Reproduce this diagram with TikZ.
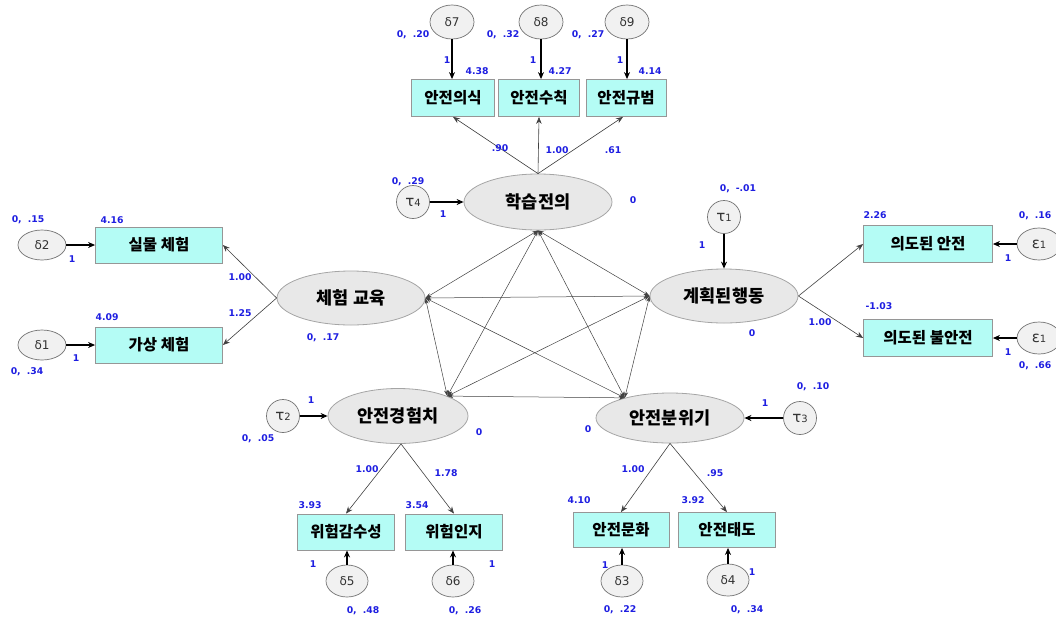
\documentclass[tikz,border=0pt]{standalone}
\usepackage{fontspec}
\newfontfamily\kr{Noto Sans CJK KR}
\newfontfamily\dv{DejaVu Sans}
\usetikzlibrary{arrows.meta,shapes.geometric}
\definecolor{boxfill}{RGB}{180,252,245}
\definecolor{boxline}{RGB}{150,150,150}
\definecolor{ellfill}{RGB}{232,232,232}
\definecolor{ellline}{RGB}{165,165,165}
\definecolor{numblue}{RGB}{30,30,225}
\tikzset{
 obs/.style={draw=boxline, fill=boxfill, minimum height=37pt, inner sep=0pt, line width=0.8pt,
   font=\kr\bfseries\fontsize{15.5}{15.5}\selectfont},
 lat/.style={ellipse, draw=ellline, fill=ellfill, minimum width=148pt, minimum height=54pt, inner sep=0pt,
   line width=0.8pt, font=\kr\bfseries\fontsize{17.5}{17.5}\selectfont},
 err/.style={ellipse, draw=black!55, fill=ellfill!60!white, minimum width=44pt, minimum height=33pt, inner sep=0pt,
   line width=0.7pt, text=black!80, font=\dv\fontsize{12}{12}\selectfont},
 num/.style={text=numblue, font=\dv\bfseries\fontsize{9.3}{10}\selectfont, inner sep=0pt},
 ea/.style={-{Stealth[length=7pt,width=6pt]}, line width=1.1pt, black},
 pa/.style={-{Stealth[length=7pt,width=5.5pt]}, line width=0.6pt, black!75},
 cv/.style={{Stealth[length=6pt,width=4pt]}-{Stealth[length=6pt,width=4pt]}, line width=0.5pt, black!75},
}
\newcommand\tl[2]{{\fontsize{15}{15}\selectfont #1}{\fontsize{10}{10}\selectfont #2}}
\begin{document}
\begin{tikzpicture}[x=1pt,y=-1pt]
\useasboundingbox (0,0) rectangle (1056,619);
% latent variables
\node[lat, minimum height=56pt] (L1) at (538,202) {학습전의};
\node[lat] (L2) at (351,298) {체험 교육};
\node[lat] (L3) at (724,296) {계획된행동};
\node[lat, minimum width=140pt, minimum height=55pt] (L4) at (398,416) {안전경험치};
\node[lat, minimum height=50pt] (L5) at (670,418) {안전분위기};
% observed
\node[obs, minimum width=83pt] (B7) at (453,98) {안전의식};
\node[obs, minimum width=81pt] (B8) at (539,98) {안전수칙};
\node[obs, minimum width=80pt] (B9) at (626,98) {안전규범};
\node[obs, minimum width=127pt, minimum height=36pt] (B2) at (159,245) {실물 체험};
\node[obs, minimum width=127pt, minimum height=36pt] (B1) at (159,345) {가상 체험};
\node[obs, minimum width=129pt] (Y1) at (928,244) {의도된 안전};
\node[obs, minimum width=129pt] (Y2) at (928,338) {의도된 불안전};
\node[obs, minimum width=97pt, minimum height=36pt] (B5) at (346,532) {위험감수성};
\node[obs, minimum width=97pt, minimum height=36pt] (B6) at (454,532) {위험인지};
\node[obs, minimum width=96pt, minimum height=35pt] (B3) at (621,530) {안전문화};
\node[obs, minimum width=97pt, minimum height=35pt] (B4) at (727,530) {안전태도};
% errors
\node[err, minimum height=34pt] (d7) at (452,22) {δ7};
\node[err, minimum height=34pt] (d8) at (541,22) {δ8};
\node[err, minimum height=34pt] (d9) at (627,22) {δ9};
\node[err, minimum width=48pt, minimum height=30pt] (d2) at (42,245) {δ2};
\node[err, minimum width=48pt, minimum height=30pt] (d1) at (42,345) {δ1};
\node[err, minimum height=32pt] (e1a) at (1039,244) {\tl{ε}{1}};
\node[err, minimum height=32pt] (e1b) at (1039,338) {\tl{ε}{1}};
\node[err, minimum width=33pt, minimum height=33pt] (t1) at (724,217) {\tl{τ}{1}};
\node[err, minimum width=33pt, minimum height=33pt] (t2) at (283,416) {\tl{τ}{2}};
\node[err, minimum width=33pt, minimum height=33pt] (t3) at (800,418) {\tl{τ}{3}};
\node[err, minimum width=33pt, minimum height=33pt] (t4) at (413,202) {\tl{τ}{4}};
\node[err, minimum width=42pt, minimum height=32pt] (d5) at (347,581) {δ5};
\node[err, minimum width=42pt, minimum height=32pt] (d6) at (453,581) {δ6};
\node[err, minimum width=42pt, minimum height=32pt] (d3) at (622,581) {δ3};
\node[err, minimum width=42pt, minimum height=32pt] (d4) at (728,580) {δ4};
% error arrows
\draw[ea] (d7.south) -- (d7.south |- B7.north);
\draw[ea] (d8.south) -- (d8.south |- B8.north);
\draw[ea] (d9.south) -- (d9.south |- B9.north);
\draw[ea] (d2.east) -- (B2.west);
\draw[ea] (d1.east) -- (B1.west);
\draw[ea] (e1a.west) -- (Y1.east);
\draw[ea] (e1b.west) -- (Y2.east);
\draw[ea] (t1.south) -- (L3.north);
\draw[ea] (t2.east) -- (L4.west);
\draw[ea] (t3.west) -- (L5.east);
\draw[ea] (t4.east) -- (L1.west);
\draw[ea] (d5.north) -- (d5.north |- B5.south);
\draw[ea] (d6.north) -- (d6.north |- B6.south);
\draw[ea] (d3.north) -- (d3.north |- B3.south);
\draw[ea] (d4.north) -- (d4.north |- B4.south);
% loadings
\draw[pa] (L1.north) -- (B7.south);
\draw[pa] (L1.north) -- (B8.south);
\draw[pa] (L1.north) -- ([xshift=-3pt]B9.south);
\draw[pa] (L2.west) -- (B2.east);
\draw[pa] (L2.west) -- (B1.east);
\draw[pa] (L3.east) -- (Y1.west);
\draw[pa] (L3.east) -- (Y2.west);
\draw[pa] ([xshift=3pt]L4.south) -- (B5.north);
\draw[pa] ([xshift=3pt]L4.south) -- (B6.north);
\draw[pa] (L5.south) -- (B3.north);
\draw[pa] (L5.south) -- (B4.north);
% covariances
\draw[cv] (L1.south) -- (L2.east);
\draw[cv] (L1.south) -- (L3.west);
\draw[cv] (L1.south) -- (L4.22);
\draw[cv] (L1.south) -- (L5.156);
\draw[cv] (L2.east) -- (L3.west);
\draw[cv] (L2.east) -- (L4.22);
\draw[cv] (L2.east) -- (L5.156);
\draw[cv] (L3.west) -- (L4.22);
\draw[cv] (L3.west) -- (L5.156);
\draw[cv] (L4.22) -- (L5.156);
% numbers top
\node[num] (n1) at (413,35) {0,\hspace{6pt}.20};
\node[num] (n2) at (447,60) {1};
\node[num] (n3) at (477,71) {4.38};
\node[num] (n4) at (503,35) {0,\hspace{6pt}.32};
\node[num] (n5) at (533,60) {1};
\node[num] (n6) at (560,71) {4.27};
\node[num] (n7) at (588,35) {0,\hspace{6pt}.27};
\node[num] (n8) at (620,60) {1};
\node[num] (n9) at (650,71) {4.14};
\node[num] (n10) at (500,148) {.90};
\node[num] (n11) at (557,150) {1.00};
\node[num] (n12) at (613,150) {.61};
\node[num] (n13) at (633,200) {0};
\node[num] (n14) at (408,182) {0,\hspace{6pt}.29};
\node[num] (n15) at (443,214) {1};
% left
\node[num] (n16) at (28,220) {0,\hspace{6pt}.15};
\node[num] (n17) at (112,220) {4.16};
\node[num] (n18) at (72,259) {1};
\node[num] (n19) at (240,277) {1.00};
\node[num] (n20) at (240,313) {1.25};
\node[num] (n21) at (107,317) {4.09};
\node[num] (n22) at (76,358) {1};
\node[num] (n23) at (27,372) {0,\hspace{6pt}.34};
\node[num] (n24) at (323,338) {0,\hspace{6pt}.17};
% right
\node[num] (n25) at (738,189) {0,\hspace{6pt}-.01};
\node[num] (n26) at (702,245) {1};
\node[num] (n27) at (875,215) {2.26};
\node[num] (n28) at (1035,216) {0,\hspace{6pt}.16};
\node[num] (n29) at (1008,258) {1};
\node[num] (n30) at (879,306) {-1.03};
\node[num] (n31) at (820,322) {1.00};
\node[num] (n32) at (1008,352) {1};
\node[num] (n33) at (1035,366) {0,\hspace{6pt}.66};
\node[num] (n34) at (752,333) {0};
% bottom left
\node[num] (n35) at (311,400) {1};
\node[num] (n36) at (258,439) {0,\hspace{6pt}.05};
\node[num] (n37) at (479,432) {0};
\node[num] (n38) at (367,469) {1.00};
\node[num] (n39) at (446,473) {1.78};
\node[num] (n40) at (310,505) {3.93};
\node[num] (n41) at (417,505) {3.54};
\node[num] (n42) at (313,564) {1};
\node[num] (n43) at (492,564) {1};
\node[num] (n44) at (363,611) {0,\hspace{6pt}.48};
\node[num] (n45) at (465,611) {0,\hspace{6pt}.26};
% bottom right
\node[num] (n46) at (813,387) {0,\hspace{6pt}.10};
\node[num] (n47) at (765,403) {1};
\node[num] (n48) at (588,429) {0};
\node[num] (n49) at (633,469) {1.00};
\node[num] (n50) at (715,473) {.95};
\node[num] (n51) at (579,500) {4.10};
\node[num] (n52) at (693,500) {3.92};
\node[num] (n53) at (605,565) {1};
\node[num] (n54) at (752,572) {1};
\node[num] (n55) at (620,610) {0,\hspace{6pt}.22};
\node[num] (n56) at (747,610) {0,\hspace{6pt}.34};
\end{tikzpicture}
\end{document}
